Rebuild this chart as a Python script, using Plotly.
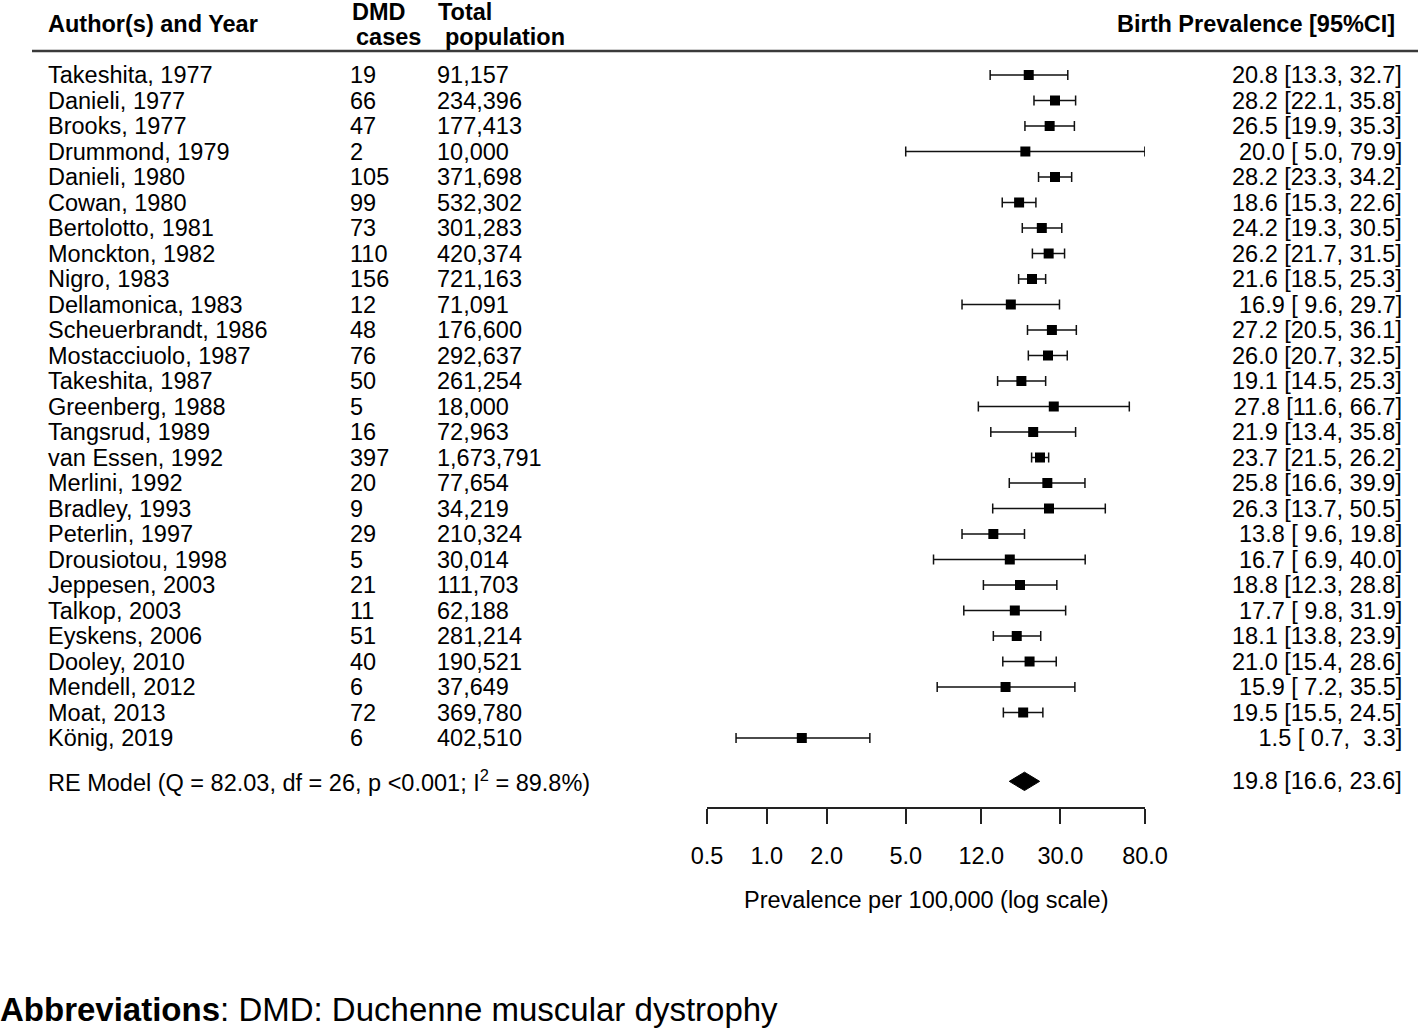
import plotly.graph_objects as go
import math

# ---------------- data ----------------
authors = ["Takeshita, 1977", "Danieli, 1977", "Brooks, 1977", "Drummond, 1979", "Danieli, 1980",
           "Cowan, 1980", "Bertolotto, 1981", "Monckton, 1982", "Nigro, 1983", "Dellamonica, 1983",
           "Scheuerbrandt, 1986", "Mostacciuolo, 1987", "Takeshita, 1987", "Greenberg, 1988",
           "Tangsrud, 1989", "van Essen, 1992", "Merlini, 1992", "Bradley, 1993", "Peterlin, 1997",
           "Drousiotou, 1998", "Jeppesen, 2003", "Talkop, 2003", "Eyskens, 2006", "Dooley, 2010",
           "Mendell, 2012", "Moat, 2013", "König, 2019"]
cases = [19, 66, 47, 2, 105, 99, 73, 110, 156, 12, 48, 76, 50, 5, 16, 397, 20, 9, 29, 5, 21, 11,
         51, 40, 6, 72, 6]
population = ["91,157", "234,396", "177,413", "10,000", "371,698", "532,302", "301,283", "420,374",
              "721,163", "71,091", "176,600", "292,637", "261,254", "18,000", "72,963", "1,673,791",
              "77,654", "34,219", "210,324", "30,014", "111,703", "62,188", "281,214", "190,521",
              "37,649", "369,780", "402,510"]
estimate = [20.8, 28.2, 26.5, 20.0, 28.2, 18.6, 24.2, 26.2, 21.6, 16.9, 27.2, 26.0, 19.1, 27.8,
            21.9, 23.7, 25.8, 26.3, 13.8, 16.7, 18.8, 17.7, 18.1, 21.0, 15.9, 19.5, 1.5]
ci_low = [13.3, 22.1, 19.9, 5.0, 23.3, 15.3, 19.3, 21.7, 18.5, 9.6, 20.5, 20.7, 14.5, 11.6, 13.4,
          21.5, 16.6, 13.7, 9.6, 6.9, 12.3, 9.8, 13.8, 15.4, 7.2, 15.5, 0.7]
ci_high = [32.7, 35.8, 35.3, 79.9, 34.2, 22.6, 30.5, 31.5, 25.3, 29.7, 36.1, 32.5, 25.3, 66.7,
           35.8, 26.2, 39.9, 50.5, 19.8, 40.0, 28.8, 31.9, 23.9, 28.6, 35.5, 24.5, 3.3]
re_est, re_low, re_high = 19.8, 16.6, 23.6
re_label = "RE Model (Q = 82.03, df = 26, p <0.001; I<sup>2</sup> = 89.8%)"
tick_vals = [0.5, 1.0, 2.0, 5.0, 12.0, 30.0, 80.0]
tick_text = ["0.5", "1.0", "2.0", "5.0", "12.0", "30.0", "80.0"]

# ---------------- layout helpers ----------------
W, H = 1418, 1028
ROW0, ROWH = 75.0, 25.5          # pixel of first row, row height
FONT = "Liberation Sans, Arial, sans-serif"
FS = 23.5
n = len(authors)
rows = list(range(n))
re_row = 27.7


def prow(py):  # pixel y -> row units
    return (py - ROW0) / ROWH


def px(x):  # pixel x -> paper
    return x / W


def fmt(v):
    return f"{v:4.1f}".replace(" ", "\u00a0")


fig = go.Figure()

fig.add_trace(go.Scatter(
    x=estimate, y=rows, mode="markers",
    marker=dict(symbol="square", size=10, color="black"),
    error_x=dict(type="data", symmetric=False,
                 array=[h - e for h, e in zip(ci_high, estimate)],
                 arrayminus=[e - l for l, e in zip(ci_low, estimate)],
                 color="#111111", thickness=1.5, width=5),
    showlegend=False, hoverinfo="skip", cliponaxis=False))

# RE diamond
dh = 0.36
fig.add_trace(go.Scatter(
    x=[re_low, re_est, re_high, re_est, re_low],
    y=[re_row, re_row - dh, re_row, re_row + dh, re_row],
    mode="lines", fill="toself", fillcolor="black",
    line=dict(color="black", width=1), showlegend=False, hoverinfo="skip"))

ann = []
txt = dict(family=FONT, size=FS, color="black")
for i in range(n):
    ann.append(dict(x=px(46), y=i, xref="paper", yref="y", text=authors[i],
                    xanchor="left", yanchor="middle", showarrow=False, font=txt))
    ann.append(dict(x=px(348), y=i, xref="paper", yref="y", text=str(cases[i]),
                    xanchor="left", yanchor="middle", showarrow=False, font=txt))
    ann.append(dict(x=px(435), y=i, xref="paper", yref="y", text=population[i],
                    xanchor="left", yanchor="middle", showarrow=False, font=txt))
    lab = f"{fmt(estimate[i])} [{fmt(ci_low[i])}, {fmt(ci_high[i])}]"
    ann.append(dict(x=px(1404), y=i, xref="paper", yref="y", text=lab,
                    xanchor="right", yanchor="middle", showarrow=False, font=txt))

ann.append(dict(x=px(46), y=re_row, xref="paper", yref="y", text=re_label,
                xanchor="left", yanchor="middle", showarrow=False, font=txt))
ann.append(dict(x=px(1404), y=re_row, xref="paper", yref="y",
                text=f"{fmt(re_est)} [{fmt(re_low)}, {fmt(re_high)}]",
                xanchor="right", yanchor="middle", showarrow=False, font=txt))

# headers
bold = dict(family=FONT, size=FS, color="black")
ann += [
    dict(x=px(46), y=prow(24), xref="paper", yref="y", text="<b>Author(s) and Year</b>",
         xanchor="left", yanchor="middle", showarrow=False, font=bold),
    dict(x=px(350), y=prow(12), xref="paper", yref="y", text="<b>DMD</b>",
         xanchor="left", yanchor="middle", showarrow=False, font=bold),
    dict(x=px(354), y=prow(37), xref="paper", yref="y", text="<b>cases</b>",
         xanchor="left", yanchor="middle", showarrow=False, font=bold),
    dict(x=px(436), y=prow(12), xref="paper", yref="y", text="<b>Total</b>",
         xanchor="left", yanchor="middle", showarrow=False, font=bold),
    dict(x=px(443), y=prow(37), xref="paper", yref="y", text="<b>population</b>",
         xanchor="left", yanchor="middle", showarrow=False, font=bold),
    dict(x=px(1397), y=prow(24), xref="paper", yref="y", text="<b>Birth Prevalence [95%CI]</b>",
         xanchor="right", yanchor="middle", showarrow=False, font=bold),
    dict(x=px(926), y=prow(900), xref="paper", yref="y", text="Prevalence per 100,000 (log scale)",
         xanchor="center", yanchor="middle", showarrow=False, font=txt),
    dict(x=px(-2), y=prow(1009), xref="paper", yref="y",
         text="<b>Abbreviations</b>: DMD: Duchenne muscular dystrophy",
         xanchor="left", yanchor="middle", showarrow=False,
         font=dict(family=FONT, size=33, color="black")),
]

shapes = [dict(type="line", xref="paper", yref="y", x0=px(32), x1=1.0,
               y0=prow(51), y1=prow(51), line=dict(color="#3a3a3a", width=2.5))]

fig.update_layout(
    width=W, height=H, autosize=False,
    margin=dict(l=0, r=0, t=0, b=0, pad=0, autoexpand=False),
    paper_bgcolor="white", plot_bgcolor="white",
    annotations=ann, shapes=shapes,
    xaxis=dict(type="log", domain=[px(707), px(1145)],
               range=[math.log10(0.5), math.log10(80)],
               anchor="free", position=1 - 808 / H, automargin=False,
               tickmode="array", tickvals=tick_vals, ticktext=tick_text,
               ticks="outside", ticklen=15, tickwidth=1.5, tickcolor="#222222",
               showline=True, linecolor="#222222", linewidth=1.5,
               showgrid=False, zeroline=False,
               tickfont=dict(family=FONT, size=FS, color="black"),
               ticklabelstandoff=12),
    yaxis=dict(range=[prow(H), prow(0)], visible=False, showgrid=False, zeroline=False,
               automargin=False),
)

fig.write_html("out.html",
               config={"displayModeBar": False},
               post_script="document.body.style.margin='0px';"
                           "document.body.style.overflow='hidden';")
